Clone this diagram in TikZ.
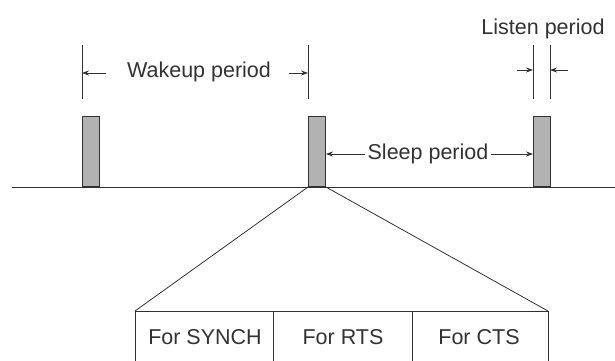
\documentclass[tikz,border=0pt]{standalone}
\usepackage{fontspec}
\setmainfont{Liberation Sans}
\usetikzlibrary{arrows.meta}
\definecolor{ink}{RGB}{50,50,50}
\definecolor{barfill}{RGB}{178,178,178}
\tikzset{
  bar/.style={draw=ink, fill=barfill, line width=0.9pt, minimum width=17pt, minimum height=70pt, inner sep=0pt, anchor=south west},
  lbl/.style={font=\fontsize{21.5}{23}\selectfont, text=ink, inner sep=2pt},
  arr/.style={-{Stealth[length=7pt,width=5pt]}, line width=0.8pt, draw=ink},
  thin/.style={line width=0.8pt, draw=ink}
}
\begin{document}
\begin{tikzpicture}[x=1pt,y=-1pt]
\useasboundingbox (0,0) rectangle (615,360);
% baseline
\coordinate (base0) at (12,187);
\coordinate (base1) at (615,187);
\draw[thin] (base0) -- (base1);
% bars
\node[bar] (b1) at (82,187) {};
\node[bar] (b2) at (308,187) {};
\node[bar] (b3) at (533,187) {};
% wakeup period
\coordinate (w1a) at (82,45);  \coordinate (w1b) at (82,99);
\coordinate (w2a) at (308,45); \coordinate (w2b) at (308,99);
\draw[thin] (w1a) -- (w1b);
\draw[thin] (w2a) -- (w2b);
\coordinate (wl) at (106,73); \coordinate (wl2) at (82,73);
\coordinate (wr) at (289,73); \coordinate (wr2) at (308,73);
\draw[arr] (wl) -- (wl2);
\draw[arr] (wr) -- (wr2);
\node[lbl] (wt) at (199,72) {Wakeup period};
% listen period
\coordinate (l1a) at (533,45); \coordinate (l1b) at (533,99);
\coordinate (l2a) at (550,45); \coordinate (l2b) at (550,99);
\draw[thin] (l1a) -- (l1b);
\draw[thin] (l2a) -- (l2b);
\coordinate (ll) at (517,70); \coordinate (ll2) at (533,70);
\coordinate (lr) at (568,70); \coordinate (lr2) at (550,70);
\draw[arr] (ll) -- (ll2);
\draw[arr] (lr) -- (lr2);
\node[lbl] (lt) at (543,29) {Listen period};
% sleep period
\node[lbl] (st) at (428,154) {Sleep period};
\draw[arr] (st.west) -- (b2.east |- st.west);
\draw[arr] (st.east) -- (b3.west |- st.east);
% expansion
\coordinate (tl) at (135,311);
\coordinate (tr) at (548,311);
\coordinate (d1) at (273,311);
\coordinate (d2) at (412,311);
\draw[thin] (b2.south west) -- (tl);
\draw[thin] (b2.south east) -- (tr);
\draw[thin] (135,362) -- (tl) -- (tr) -- (548,362);
\draw[thin] (d1) -- (273,362);
\draw[thin] (d2) -- (412,362);
\node[lbl] (c1) at (205,337) {For SYNCH};
\node[lbl] (c2) at (343,337) {For RTS};
\node[lbl] (c3) at (479,337) {For CTS};
\end{tikzpicture}
\end{document}
